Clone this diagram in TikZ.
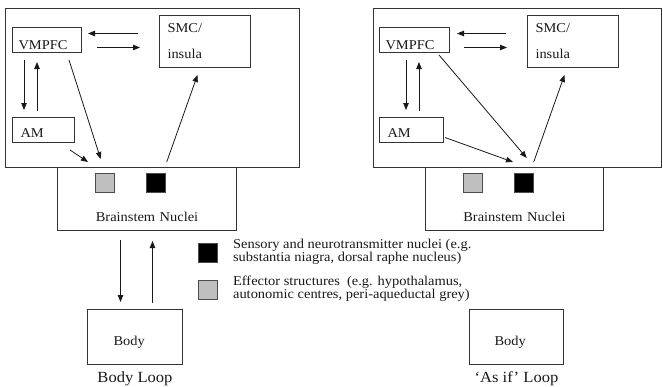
\documentclass[tikz,border=0pt]{standalone}
\usepackage{fontspec}
\setmainfont{Liberation Serif}[FakeStretch=1.07]
\usetikzlibrary{arrows.meta,calc}

\begin{document}
\begin{tikzpicture}[x=1pt, y=-1pt,
	box/.style={draw=black!80, line width=1pt, anchor=north west, inner ysep=0pt, align=left, text=black!90, font=\fontsize{13.5}{15}\selectfont},
	nucleus/.style={draw=black!70, line width=0.9pt, anchor=north west, inner sep=0pt, minimum size=18.5pt},
	arr/.style={draw=black!90, line width=0.8pt, -{Triangle[length=7pt,width=5.5pt]}},
	legend/.style={anchor=west, inner sep=0pt, align=left, text=black!90, font=\fontsize{13.5}{10.5}\selectfont},
	looplabel/.style={anchor=base, inner sep=0pt, text=black!90, font=\fontsize{15.5}{17}\selectfont}]
		\useasboundingbox (0,0) rectangle (663,386);
		
		\node[box, minimum width=294pt, minimum height=159pt] (brainL) at (5,8) {};
		\node[box, inner xsep=6pt, text width=57pt, text height=22pt, text depth=3pt] (vmpfcL) at (12,27) {VMPFC};
		\node[box, inner xsep=8pt, text width=75pt, minimum height=52pt, font=\fontsize{13.5}{26}\selectfont] (smcL) at (159,15) {SMC/\\insula};
		\node[box, inner xsep=8pt, text width=46pt, text height=20pt, text depth=5pt] (amL) at (12,117) {AM};
		\node[box, inner xsep=0pt, text width=179pt, align=center, text height=54pt, text depth=9pt] (bsL) at (57,167) {Brainstem Nuclei};
		\node[nucleus, fill=black!25] (greyL) at (95,173) {};
		\node[nucleus, fill=black] (blackL) at (146,173) {};
		\node[box, inner xsep=26pt, text width=43pt, text height=36pt, text depth=19pt] (bodyL) at (87,309) {Body};
		\node[looplabel] (loopL) at ($(bodyL.south)+(0,17.7)$) {Body Loop};
		
		\draw[arr] ($(smcL.west)+(-21,-8)$) -- ($(vmpfcL.east)+(6,-6.5)$);
		\draw[arr] ($(vmpfcL.east)+(15,7.5)$) -- ($(smcL.west)+(-19,6)$);
		\draw[arr] ($(vmpfcL.south west)+(12,7)$) -- ($(amL.north west)+(12,-7)$);
		\draw[arr] ($(amL.north west)+(25,-6)$) -- ($(vmpfcL.south west)+(25,9)$);
		\draw[arr] ($(vmpfcL.south west)+(57,7)$) -- ($(greyL.north)+(-4,-14)$);
		\draw[arr] ($(amL.south east)+(-5,7)$) -- ($(greyL.north west)+(-7,-11)$);
		\draw[arr] ($(blackL.north)+(11,-11)$) -- ($(smcL.south)+(-7.5,7)$);
		\draw[arr] ($(bsL.south)+(-26.5,9)$) -- ($(bodyL.north)+(-14.5,-7)$);
		\draw[arr] ($(bodyL.north)+(17.5,-6)$) -- ($(bsL.south)+(5.5,10)$);
		
		\node[box, minimum width=288pt, minimum height=159pt] (brainR) at (373,8) {};
		\node[box, inner xsep=6pt, text width=58pt, text height=22pt, text depth=3pt] (vmpfcR) at (379,27) {VMPFC};
		\node[box, inner xsep=8pt, text width=75pt, minimum height=52pt, font=\fontsize{13.5}{26}\selectfont] (smcR) at (527,15) {SMC/\\insula};
		\node[box, inner xsep=8pt, text width=48pt, text height=20pt, text depth=5pt] (amR) at (379,117) {AM};
		\node[box, inner xsep=0pt, text width=178pt, align=center, text height=54pt, text depth=9pt] (bsR) at (425,167) {Brainstem Nuclei};
		\node[nucleus, fill=black!25] (greyR) at (463,173) {};
		\node[nucleus, fill=black] (blackR) at (514,173) {};
		\node[box, inner xsep=25pt, text width=44pt, text height=36pt, text depth=19pt] (bodyR) at (469,309) {Body};
		\node[looplabel] (loopR) at ($(bodyR.south)+(0,17.7)$) {‘As if’ Loop};
		
		\draw[arr] ($(smcR.west)+(-21,-8)$) -- ($(vmpfcR.east)+(7,-6.5)$);
		\draw[arr] ($(vmpfcR.east)+(14,7.5)$) -- ($(smcR.west)+(-20,6)$);
		\draw[arr] ($(vmpfcR.south west)+(27,7)$) -- ($(amR.north west)+(27,-7)$);
		\draw[arr] ($(amR.north west)+(40,-6)$) -- ($(vmpfcR.south west)+(40,9)$);
		\draw[arr] ($(vmpfcR.south east)+(-11,2)$) -- ($(blackR.north)+(3,-15)$);
		\draw[arr] ($(amR.east)+(1,7.5)$) -- ($(blackR.north west)+(-1,-11)$);
		\draw[arr] ($(blackR.north)+(10,-11)$) -- ($(smcR.south)+(-8.5,7)$);
		
		\node[nucleus, fill=black, minimum size=19pt] (keyBlack) at (198,243) {};
		\node[legend] (keyBlackTxt) at ($(keyBlack.east)+(15,-1)$) {Sensory and neurotransmitter nuclei (e.g.\\substantia niagra, dorsal raphe nucleus)};
		\node[nucleus, fill=black!25, minimum size=19pt] (keyGrey) at (198,280) {};
		\node[legend] (keyGreyTxt) at ($(keyGrey.east)+(15,-1)$) {Effector structures\ \ (e.g. hypothalamus,\\autonomic centres, peri-aqueductal grey)};
\end{tikzpicture}
\end{document}
